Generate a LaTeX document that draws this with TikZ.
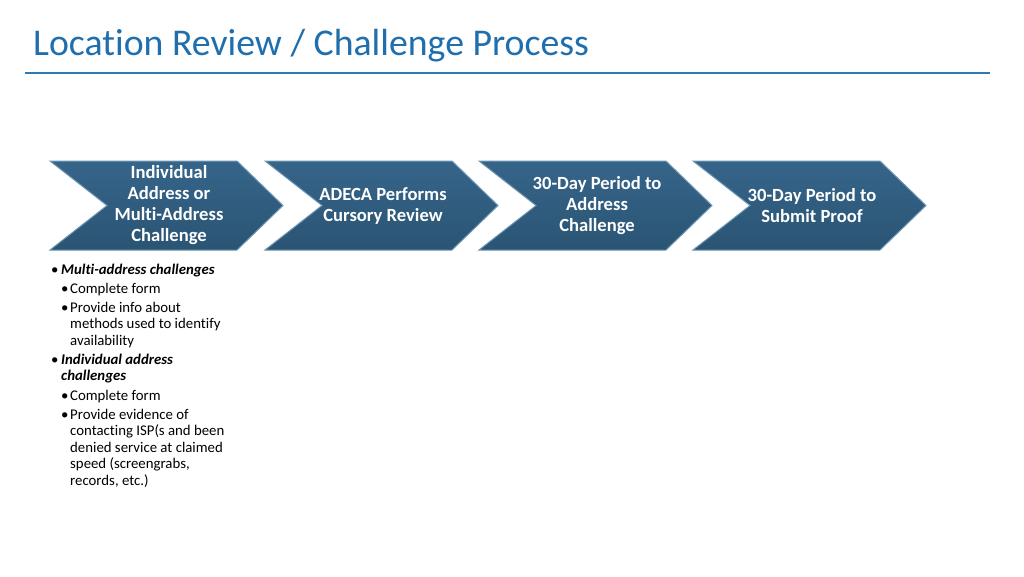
\documentclass[tikz,border=0pt]{standalone}
\usepackage{fontspec}
\setmainfont{Carlito}[Ligatures=NoCommon]
\definecolor{titleblue}{HTML}{1F6FAE}
\definecolor{rulecol}{HTML}{2C7BB6}
\definecolor{chevtop}{HTML}{36658A}
\definecolor{chevbot}{HTML}{2A5473}
\definecolor{chevedge}{HTML}{7097B2}
\tikzset{
  chevshape/.style={top color=chevtop, bottom color=chevbot, draw=chevedge, line width=1pt, line join=miter},
  chevtext/.style={text=white, font=\fontsize{18.6}{21}\selectfont\bfseries, align=center, inner sep=0pt},
  bul/.style={anchor=base west, inner sep=0pt, align=left, font=\fontsize{14.8}{16.5}\selectfont},
}
\newcommand{\chevronat}[1]{%
  \path[chevshape] (#1,161) -- (#1+187,161) -- (#1+233,205.5) -- (#1+187,250) -- (#1,250) -- (#1+57,205.5) -- cycle;}
\begin{document}
\begin{tikzpicture}[x=1pt,y=-1pt]
\useasboundingbox[fill=white] (0,0) rectangle (1024,576);
% title
\node[anchor=base west, inner sep=0pt, text=titleblue, font=\fontsize{37.8}{42}\selectfont] (title) at (33,55) {Location Review / Challenge Process};
\coordinate (ruleL) at (25,73);
\coordinate (ruleR) at (990,73);
\draw[rulecol, line width=2.6pt] (ruleL) -- (ruleR);
% chevrons
\chevronat{50}
\chevronat{265}
\chevronat{479}
\chevronat{693}
\node[chevtext] (c1) at (169,205.5) {Individual\\Address or\\Multi-Address\\Challenge};
\node[chevtext] (c2) at (383,205.5) {ADECA Performs\\Cursory Review};
\node[chevtext] (c3) at (597,205.5) {30-Day Period to\\Address\\Challenge};
\node[chevtext] (c4) at (812,205.5) {30-Day Period to\\Submit Proof};
% bullets (multi-line nodes are placed at the baseline of their last line)
\node[bul] (b1d) at (51,274) {•};
\node[bul] (b1) at (61,274) {\textit{\textbf{Multi-address challenges}}};
\node[bul] (b2d) at (61,293) {•};
\node[bul] (b2) at (70,293) {Complete form};
\node[bul] (b3d) at (61,312) {•};
\node[bul] (b3) at (70,345) {Provide info about\\methods used to identify\\availability};
\node[bul] (b4d) at (51,364) {•};
\node[bul] (b4) at (61,380.5) {\textit{\textbf{Individual address}}\\\textit{\textbf{challenges}}};
\node[bul] (b5d) at (61,400) {•};
\node[bul] (b5) at (70,400) {Complete form};
\node[bul] (b6d) at (61,419) {•};
\node[bul] (b6) at (70,485) {Provide evidence of\\contacting ISP(s and been\\denied service at claimed\\speed (screengrabs,\\records, etc.)};
\end{tikzpicture}
\end{document}
